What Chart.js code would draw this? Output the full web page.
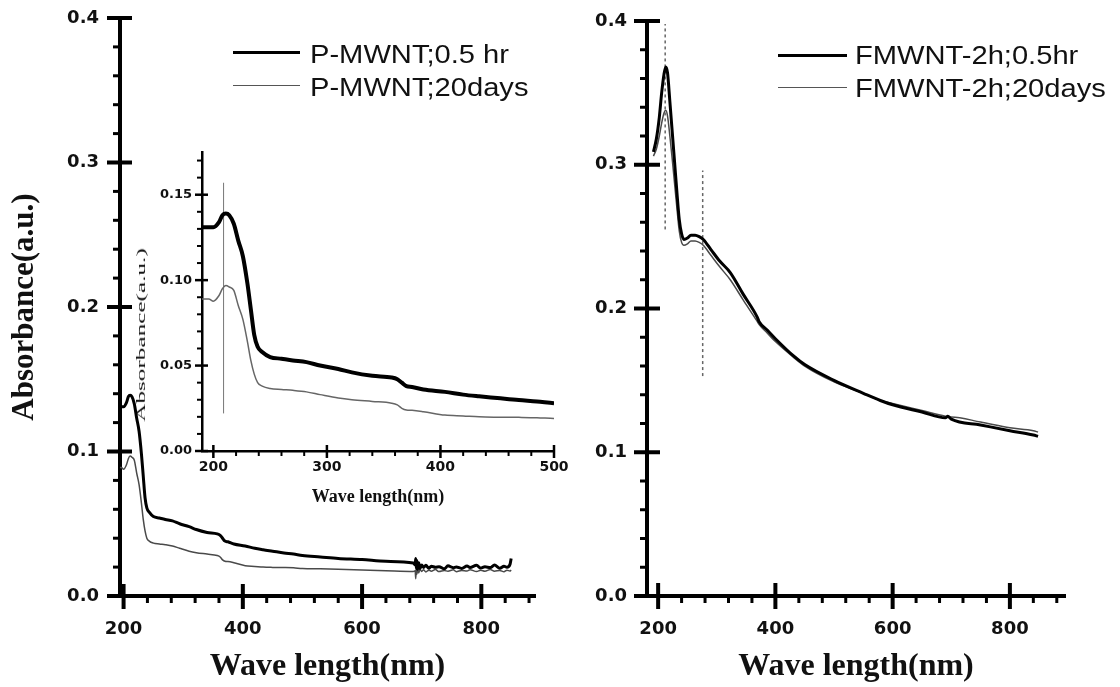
<!DOCTYPE html>
<html>
<head>
<meta charset="utf-8">
<script src="https://cdn.jsdelivr.net/npm/chart.js@4.4.1/dist/chart.umd.min.js"></script>
<style>
  html, body { margin: 0; padding: 0; background: #fff; }
  #wrap { position: relative; width: 1120px; height: 687px; overflow: hidden; background: #fff; }
  canvas { position: absolute; }
  .leg { position: absolute; font-family: "Liberation Sans", Arial, sans-serif; font-size: 26px; color: #111;
         white-space: nowrap; line-height: 30px; height: 30px; transform: scaleX(1.12); transform-origin: left center; }
  .swatch { position: absolute; height: 0; }
  .vtitle { position: absolute; width: 0; height: 0; }
  .vtitle span { position: absolute; left: 0; top: 0; white-space: nowrap; line-height: 1;
         font-family: "Liberation Serif", "Times New Roman", serif; font-size: 12px; color: #111;
         transform: translate(-50%, -50%) rotate(-90deg) scaleX(2.1); }
</style>
</head>
<body>
<div id="wrap">
  <canvas id="leftChart" width="560" height="687" style="left:0;top:0"></canvas>
  <canvas id="insetChart" width="476" height="380" style="left:100px;top:130px"></canvas>
  <canvas id="rightChart" width="560" height="687" style="left:560px;top:0"></canvas>

  <div class="vtitle" style="left:141px;top:335px"><span>Absorbance(a.u.)</span></div>

  <div class="swatch" style="left:233px;top:51px;width:67px;border-top:3px solid #000"></div>
  <div class="leg" style="left:310px;top:39px">P-MWNT;0.5 hr</div>
  <div class="swatch" style="left:233px;top:85px;width:67px;border-top:1.5px solid #555"></div>
  <div class="leg" style="left:310px;top:72px">P-MWNT;20days</div>

  <div class="swatch" style="left:778px;top:54px;width:69px;border-top:3px solid #000"></div>
  <div class="leg" style="left:855px;top:40px">FMWNT-2h;0.5hr</div>
  <div class="swatch" style="left:778px;top:87px;width:69px;border-top:1.5px solid #555"></div>
  <div class="leg" style="left:855px;top:73px">FMWNT-2h;20days</div>
</div>

<script>
// ---- P-MWNT (left panel; the inset shows the same spectra zoomed in) ----
const pWave = [190, 196, 200, 205, 208, 211, 214, 218, 222, 226, 230, 233, 236, 239, 243, 250, 260, 270,
  282, 294, 310, 322, 340, 357, 362, 366, 370, 375, 385, 404, 420, 434, 450, 469, 485, 500, 530, 560,
  600, 640,
  686, 689, 690, 691, 692, 693, 695, 697, 700, 703, 707, 712, 716, 723, 729, 738, 744, 753, 758, 767,
  776, 781, 792, 799, 806, 815, 822, 831, 838, 843, 848, 850]
const pHalfHour = [0.131, 0.131, 0.131, 0.134, 0.138, 0.139, 0.138, 0.133, 0.123, 0.114, 0.098, 0.083,
  0.068, 0.061, 0.058, 0.055, 0.054, 0.053, 0.052, 0.050, 0.048, 0.046, 0.044, 0.043, 0.042, 0.040,
  0.038, 0.0375, 0.036, 0.0346, 0.033, 0.032, 0.031, 0.0298, 0.029, 0.028, 0.027, 0.026, 0.0252, 0.024,
  0.0228, 0.0215, 0.026, 0.019, 0.0245, 0.0185, 0.023, 0.019, 0.0215, 0.0198, 0.0212, 0.0192, 0.0206,
  0.0199, 0.0203, 0.0188, 0.0209, 0.0196, 0.0201, 0.0191, 0.0207, 0.0198, 0.0213, 0.0193, 0.0202, 0.0197,
  0.0214, 0.0192, 0.0206, 0.0199, 0.0218, 0.026]
const pTwentyDays = [0.089, 0.089, 0.0877, 0.091, 0.095, 0.0968, 0.096, 0.094, 0.085, 0.077, 0.064, 0.053,
  0.045, 0.040, 0.038, 0.0366, 0.036, 0.0355, 0.0346, 0.033, 0.031, 0.030, 0.029, 0.028, 0.027, 0.025,
  0.024, 0.0238, 0.023, 0.021, 0.0205, 0.020, 0.0198, 0.0197, 0.0195, 0.019, 0.0188, 0.0185, 0.018, 0.0175,
  0.017, 0.0175, 0.012, 0.0195, 0.015, 0.0185, 0.016, 0.0185, 0.017, 0.0181, 0.0166, 0.0179, 0.0171,
  0.0183, 0.0169, 0.0176, 0.0172, 0.0181, 0.0168, 0.0177, 0.0173, 0.0182, 0.0169, 0.0178, 0.0171, 0.0183,
  0.0172, 0.0177, 0.0168, 0.0179, 0.0173, 0.018]
const insetGuideX = [209, 209]
const insetGuideY = [0.022, 0.157]

// ---- FMWNT-2h (right panel) ----
const fWave = [192, 197, 202, 206, 210, 213, 216, 220, 224, 228, 232, 236, 240, 244, 250, 256, 263, 270,
  277, 290, 305, 323, 345, 369, 372, 386, 400, 431, 450, 500, 550, 579, 600, 650, 690, 694, 700, 750,
  800, 840, 848]
const fHalfHour = [0.309, 0.318, 0.333, 0.350, 0.363, 0.368, 0.364, 0.344, 0.323, 0.302, 0.281, 0.262,
  0.252, 0.248, 0.249, 0.251, 0.251, 0.250, 0.248, 0.241, 0.233, 0.225, 0.210, 0.194, 0.191, 0.185,
  0.179, 0.167, 0.161, 0.150, 0.141, 0.136, 0.133, 0.128, 0.124, 0.125, 0.123, 0.119, 0.115, 0.112, 0.111]
const fTwentyDays = [0.306, 0.311, 0.320, 0.329, 0.336, 0.338, 0.334, 0.320, 0.304, 0.287, 0.270, 0.254,
  0.246, 0.244, 0.245, 0.247, 0.247, 0.246, 0.244, 0.237, 0.229, 0.220, 0.206, 0.191, 0.189, 0.183,
  0.177, 0.166, 0.160, 0.149, 0.141, 0.136, 0.134, 0.129, 0.125, 0.1245, 0.1245, 0.121, 0.117, 0.115, 0.114]
const peakGuideX = [212, 212]
const peakGuideY = [0.255, 0.398]
const shoulderGuideX = [276, 276]
const shoulderGuideY = [0.153, 0.296]

// ---- ticks ----
const mainYTicks = [0, 0.1, 0.2, 0.3, 0.4]
const mainYMinor = [0.02, 0.04, 0.06, 0.08, 0.12, 0.14, 0.16, 0.18, 0.22, 0.24, 0.26, 0.28, 0.32, 0.34, 0.36, 0.38]
const mainXTicks = [200, 400, 600, 800]
const mainXMinor = [240, 280, 320, 360, 440, 480, 520, 560, 640, 680, 720, 760, 840, 880]
const insetYTicks = [0, 0.05, 0.10, 0.15]
const insetYMinor = [0.01, 0.02, 0.03, 0.04, 0.06, 0.07, 0.08, 0.09, 0.11, 0.12, 0.13, 0.14, 0.16, 0.17]
const insetXTicks = [200, 300, 400, 500]
const insetXMinor = [220, 240, 260, 280, 320, 340, 360, 380, 420, 440, 460, 480]

const pairs = (xs, ys) => xs.map((x, i) => ({ x: x, y: ys[i] }))

// Origin-style tick marks: major ones cross the axis, minor ones sit outside
const axisTicks = {
  id: 'axisTicks',
  afterDraw(chart, args, o) {
    const ctx = chart.ctx
    const a = chart.chartArea
    const sx = chart.scales.x, sy = chart.scales.y
    const seg = (x1, y1, x2, y2, w) => {
      ctx.lineWidth = w
      ctx.beginPath(); ctx.moveTo(x1, y1); ctx.lineTo(x2, y2); ctx.stroke()
    }
    ctx.save()
    ctx.strokeStyle = '#000'
    o.xMajor.forEach(v => { const p = sx.getPixelForValue(v); seg(p, a.bottom - o.majIn, p, a.bottom + o.majOut, o.majW) })
    o.xMinor.forEach(v => { const p = sx.getPixelForValue(v); seg(p, a.bottom, p, a.bottom + o.minOut, o.minW) })
    o.yMajor.forEach(v => { const p = sy.getPixelForValue(v); seg(a.left - o.majOut, p, a.left + o.majIn, p, o.majW) })
    o.yMinor.forEach(v => { const p = sy.getPixelForValue(v); seg(a.left - o.minOut, p, a.left, p, o.minW) })
    ctx.restore()
  }
}

const tickFont = size => ({ family: 'DejaVu Sans', size: size, weight: 'bold' })
const serifBold = size => ({ family: 'Liberation Serif', size: size, weight: 'bold' })

// fixed-size axis box so the plot area lands where the original one is
function linearAxis(min, max, ticks, fmt, size, o) {
  return {
    type: 'linear', min: min, max: max,
    afterBuildTicks: s => { s.ticks = ticks.map(v => ({ value: v })) },
    afterFit: s => {
      if (s.isHorizontal()) s.height = size; else s.width = size
      s.paddingTop = 0; s.paddingBottom = 0; s.paddingLeft = 0; s.paddingRight = 0
    },
    grid: { display: false, drawTicks: false },
    border: { display: true, color: '#000', width: o.border },
    ticks: { autoSkip: false, maxRotation: 0, color: '#111', padding: o.pad, font: tickFont(o.font), callback: fmt },
    title: o.title ? Object.assign({ display: true, color: '#111' }, o.title) : { display: false }
  }
}

const lineSet = (data, color, width) => ({
  data: data, borderColor: color, borderWidth: width, pointRadius: 0,
  cubicInterpolationMode: 'monotone', fill: false
})
const guideSet = (data, color, width, dash) => ({
  data: data, borderColor: color, borderWidth: width, pointRadius: 0, borderDash: dash, fill: false
})

const baseOptions = (padding, scales, ticks) => ({
  responsive: false,
  animation: false,
  events: [],
  layout: { padding: padding },
  scales: scales,
  plugins: { legend: { display: false }, tooltip: { enabled: false }, axisTicks: ticks }
})

// left main panel
new Chart(document.getElementById('leftChart'), {
  type: 'line',
  data: { datasets: [
    lineSet(pairs(pWave, pHalfHour), '#000', 3),
    lineSet(pairs(pWave, pTwentyDays), '#4a4a4a', 1.5)
  ] },
  options: baseOptions({ left: 0, top: 18, right: 25, bottom: 0 }, {
    x: linearAxis(194, 890, mainXTicks, v => String(v), 91, {
      border: 4, pad: 23, font: 18,
      title: { text: 'Wave length(nm)', font: serifBold(32), padding: { top: 0, bottom: 1 } }
    }),
    y: linearAxis(0, 0.4, mainYTicks, v => v.toFixed(1), 120, {
      border: 4, pad: 21, font: 18,
      title: { text: 'Absorbance(a.u.)', font: serifBold(31), padding: { top: 6, bottom: 0 } }
    })
  }, { xMajor: mainXTicks, xMinor: mainXMinor, yMajor: mainYTicks, yMinor: mainYMinor,
       majIn: 12, majOut: 13, minOut: 7, majW: 4, minW: 3 }),
  plugins: [axisTicks]
})

// inset
new Chart(document.getElementById('insetChart'), {
  type: 'line',
  data: { datasets: [
    lineSet(pairs(pWave, pHalfHour), '#000', 4),
    lineSet(pairs(pWave, pTwentyDays), '#666', 1.5),
    guideSet(pairs(insetGuideX, insetGuideY), '#777', 1, [])
  ] },
  options: baseOptions({ left: 0, top: 22, right: 22, bottom: 0 }, {
    x: linearAxis(190, 500, insetXTicks, v => String(v), 59, {
      border: 2.5, pad: 8, font: 14,
      title: { text: 'Wave length(nm)', font: serifBold(18), padding: { top: 0, bottom: 2 } }
    }),
    y: linearAxis(0, 0.175, insetYTicks, v => v.toFixed(2), 102, { border: 2.5, pad: 10, font: 13 })
  }, { xMajor: insetXTicks, xMinor: insetXMinor, yMajor: insetYTicks, yMinor: insetYMinor,
       majIn: 6, majOut: 7, minOut: 5, majW: 2.5, minW: 2 }),
  plugins: [axisTicks]
})

// right panel
new Chart(document.getElementById('rightChart'), {
  type: 'line',
  data: { datasets: [
    lineSet(pairs(fWave, fHalfHour), '#000', 3),
    lineSet(pairs(fWave, fTwentyDays), '#4a4a4a', 1.5),
    guideSet(pairs(peakGuideX, peakGuideY), '#666', 1.5, [3, 3]),
    guideSet(pairs(shoulderGuideX, shoulderGuideY), '#666', 1.5, [3, 3])
  ] },
  options: baseOptions({ left: 0, top: 21, right: 55, bottom: 0 }, {
    x: linearAxis(181, 894, mainXTicks, v => String(v), 91, {
      border: 4, pad: 23, font: 18,
      title: { text: 'Wave length(nm)', font: serifBold(32), padding: { top: 0, bottom: 1 } }
    }),
    y: linearAxis(0, 0.4, mainYTicks, v => v.toFixed(1), 87, { border: 4, pad: 20, font: 18 })
  }, { xMajor: mainXTicks, xMinor: mainXMinor, yMajor: mainYTicks, yMinor: mainYMinor,
       majIn: 13, majOut: 13, minOut: 7, majW: 4, minW: 3 }),
  plugins: [axisTicks]
})
</script>
</body>
</html>
